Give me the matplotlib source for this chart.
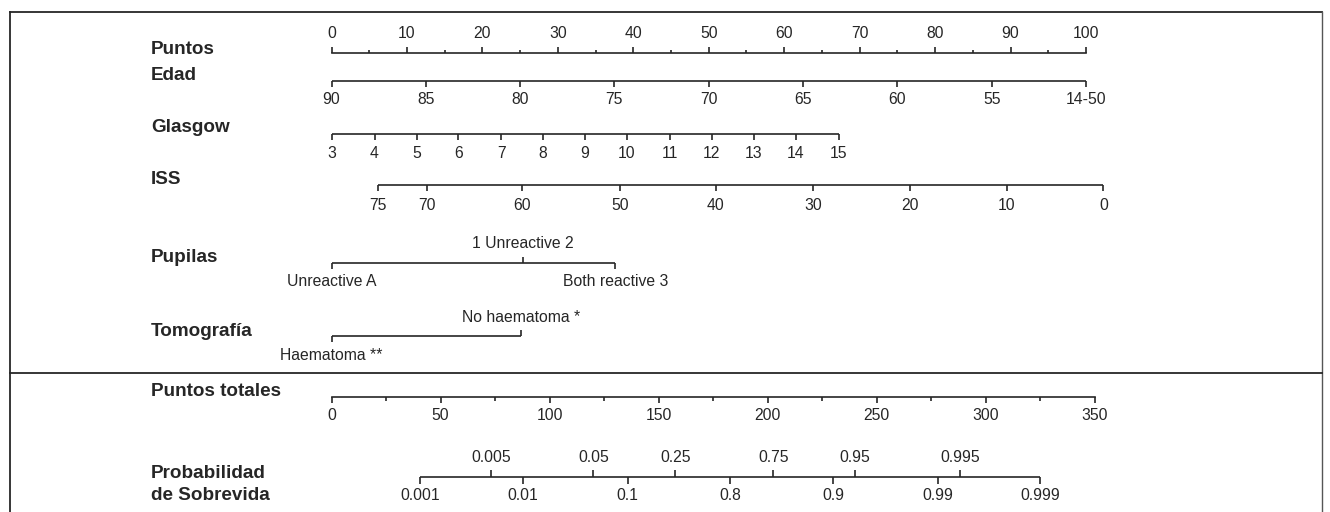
import matplotlib
matplotlib.use("Agg")
import matplotlib.pyplot as plt

# ---- data (positions in "Puntos" units, 0-100) ----
PUNTOS_MAJOR = [0, 10, 20, 30, 40, 50, 60, 70, 80, 90, 100]
PUNTOS_MINOR = [5, 15, 25, 35, 45, 55, 65, 75, 85, 95]

EDAD_LABELS = ["90", "85", "80", "75", "70", "65", "60", "55", "14-50"]
EDAD_POS = [0, 12.5, 25, 37.5, 50, 62.5, 75, 87.5, 100]

GLASGOW_LABELS = ["3", "4", "5", "6", "7", "8", "9", "10", "11", "12", "13", "14", "15"]
GLASGOW_POS = [0, 5.7, 11.3, 16.8, 22.5, 28.0, 33.6, 39.1, 44.8, 50.4, 56.0, 61.5, 67.2]

ISS_LABELS = ["75", "70", "60", "50", "40", "30", "20", "10", "0"]
ISS_POS = [6.2, 12.6, 25.3, 38.3, 50.9, 63.8, 76.7, 89.5, 102.3]

PUPILAS_LABELS = ["Unreactive A", "1 Unreactive 2", "Both reactive 3"]
PUPILAS_POS = [0, 25.4, 37.6]
PUPILAS_SIDE = ["below", "above", "below"]

TOMO_LABELS = ["Haematoma **", "No haematoma *"]
TOMO_POS = [0, 25.1]
TOMO_SIDE = ["below", "above"]

# total points scale (0-350)
TOTAL_MAJOR = [0, 50, 100, 150, 200, 250, 300, 350]
TOTAL_MINOR = [25, 75, 125, 175, 225, 275, 325]

# survival probability, positions in total points
PROB_LABELS = ["0.001", "0.005", "0.01", "0.05", "0.1", "0.25", "0.8",
               "0.75", "0.9", "0.95", "0.99", "0.995", "0.999"]
PROB_POS = [40.6, 73.1, 87.9, 120.0, 135.7, 157.6, 182.6,
            202.5, 230.0, 239.9, 278.1, 288.0, 324.7]
PROB_SIDE = ["below", "above", "below", "above", "below", "above", "below",
             "above", "below", "above", "below", "above", "below"]

INK = "#262626"
LW = 1.2
TICK_FS = 11.3
NAME_FS = 13.6
FONT = ["Liberation Sans", "DejaVu Sans"]

W, H = 1330, 512


def scale_row(ax, y, pos, labels, sides, tick_len=6, label_gap=19):
    ax.plot([min(pos), max(pos)], [y, y], color=INK, lw=LW,
            solid_capstyle="butt", clip_on=False)
    for p, lab, side in zip(pos, labels, sides):
        if side == "above":
            ax.vlines(p, y - tick_len, y, color=INK, lw=LW, clip_on=False)
            ax.text(p, y - label_gap, lab, ha="center", va="center",
                    fontsize=TICK_FS, color=INK, family=FONT, clip_on=False)
        else:
            ax.vlines(p, y, y + tick_len, color=INK, lw=LW, clip_on=False)
            ax.text(p, y + label_gap, lab, ha="center", va="center",
                    fontsize=TICK_FS, color=INK, family=FONT, clip_on=False)


fig = plt.figure(figsize=(W / 100, H / 100), dpi=100)
fig.patch.set_facecolor("white")

# background axes in pixel units for frame and row names
bg = fig.add_axes([0, 0, 1, 1])
bg.set_xlim(0, W)
bg.set_ylim(H, 0)
bg.axis("off")

# upper block: Puntos units
x0 = 331.5
top = fig.add_axes([x0 / W, 0, 754.5 / W, 1])
top.set_xlim(0, 100)
top.set_ylim(H, 0)
top.axis("off")

# lower block: total points units
bot = fig.add_axes([x0 / W, 0, 763.5 / W, 1])
bot.set_xlim(0, 350)
bot.set_ylim(H, 0)
bot.axis("off")

# frame
bg.plot([10, 1322], [12, 12], color=INK, lw=1.3)
bg.plot([10, 10], [12, H], color=INK, lw=1.3)
bg.plot([1322, 1322], [12, H], color="#555555", lw=1.0)
bg.plot([10, 1322], [373, 373], color=INK, lw=1.3)

names = [("Puntos", 49), ("Edad", 76), ("Glasgow", 128), ("ISS", 180),
         ("Pupilas", 258), ("Tomografía", 332), ("Puntos totales", 392),
         ("Probabilidad", 473), ("de Sobrevida", 495)]
for txt, y in names:
    bg.text(151, y, txt, ha="left", va="center", fontsize=NAME_FS,
            fontweight="bold", color=INK, family=FONT)

# Puntos
y = 53
top.plot([PUNTOS_MAJOR[0], PUNTOS_MAJOR[-1]], [y, y], color=INK, lw=LW, clip_on=False)
top.vlines(PUNTOS_MAJOR, y - 6, y, color=INK, lw=LW, clip_on=False)
top.vlines(PUNTOS_MINOR, y - 3, y, color=INK, lw=LW, clip_on=False)
for p in PUNTOS_MAJOR:
    top.text(p, y - 20, str(p), ha="center", va="center",
             fontsize=TICK_FS, color=INK, family=FONT)

scale_row(top, 81, EDAD_POS, EDAD_LABELS, ["below"] * len(EDAD_POS))
scale_row(top, 134, GLASGOW_POS, GLASGOW_LABELS, ["below"] * len(GLASGOW_POS))
scale_row(top, 185, ISS_POS, ISS_LABELS, ["below"] * len(ISS_POS), label_gap=21)
scale_row(top, 263, PUPILAS_POS, PUPILAS_LABELS, PUPILAS_SIDE)
scale_row(top, 336, TOMO_POS, TOMO_LABELS, TOMO_SIDE)

# Puntos totales
y = 397
bot.plot([TOTAL_MAJOR[0], TOTAL_MAJOR[-1]], [y, y], color=INK, lw=LW, clip_on=False)
bot.vlines(TOTAL_MAJOR, y, y + 6, color=INK, lw=LW, clip_on=False)
bot.vlines(TOTAL_MINOR, y, y + 3.5, color=INK, lw=LW, clip_on=False)
for p in TOTAL_MAJOR:
    bot.text(p, y + 18, str(p), ha="center", va="center",
             fontsize=TICK_FS, color=INK, family=FONT)

# Probabilidad de Sobrevida
scale_row(bot, 477, PROB_POS, PROB_LABELS, PROB_SIDE, tick_len=7, label_gap=19)

fig.savefig("out.png", dpi=100, facecolor="white")
